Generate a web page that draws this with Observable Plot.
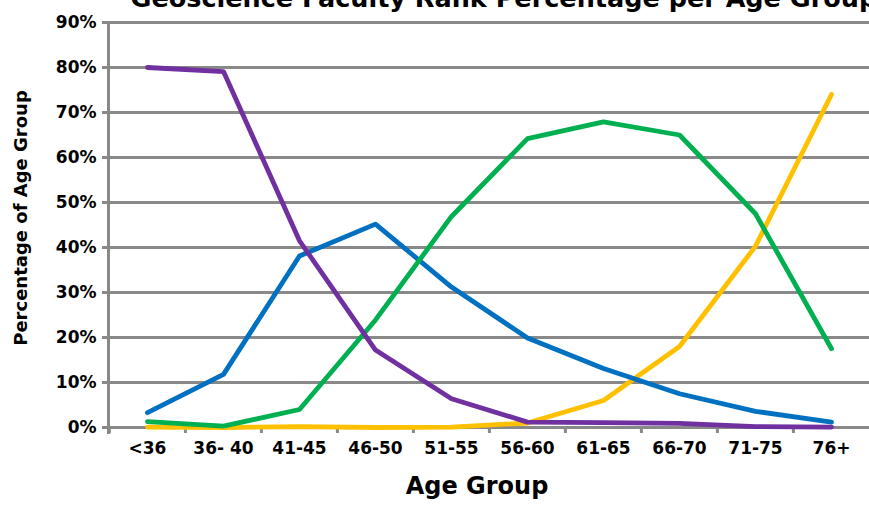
<!DOCTYPE html>
<html>
<head>
<meta charset="utf-8">
<script src="https://cdn.jsdelivr.net/npm/d3@7"></script>
<script src="https://cdn.jsdelivr.net/npm/@observablehq/plot@0.6"></script>
<style>
  html, body { margin: 0; padding: 0; background: #fff; }
  #chart { width: 869px; height: 506px; overflow: hidden; }
</style>
</head>
<body>
<div id="chart"></div>
<script>
const title = "Geoscience Faculty Rank Percentage per Age Group";
const xLabel = "Age Group";
const yLabel = "Percentage of Age Group";
const ages = ["<36", "36- 40", "41-45", "46-50", "51-55", "56-60", "61-65", "66-70", "71-75", "76+"];
const yTicks = [0, 10, 20, 30, 40, 50, 60, 70, 80, 90];
const purpleValues = [80.0, 79.1, 41.5, 17.2, 6.4, 1.2, 1.1, 0.9, 0.2, 0.1];
const blueValues = [3.3, 11.8, 38.1, 45.2, 31.2, 19.9, 13.1, 7.5, 3.6, 1.2];
const greenValues = [1.3, 0.3, 4.0, 23.9, 46.9, 64.2, 67.9, 65.0, 47.5, 17.5];
const yellowValues = [0.1, 0.0, 0.2, 0.0, 0.1, 1.0, 6.0, 18.0, 40.3, 74.0];

const series = [
  {values: yellowValues, color: "#FFC000"},
  {values: blueValues, color: "#0070C0"},
  {values: greenValues, color: "#00B050"},
  {values: purpleValues, color: "#7030A0"}
];

const font = "'DejaVu Sans', sans-serif";
const grid = "#898989";

const lineMarks = series.map(s => Plot.line(ages.map((a, i) => ({age: a, v: s.values[i]})), {
  x: "age", y: "v", stroke: s.color, strokeWidth: 4.8,
  strokeLinejoin: "round", strokeLinecap: "round"
}));

const chart = Plot.plot({
  width: 869,
  height: 506,
  marginLeft: 108,
  marginRight: 0,
  marginTop: 22,
  marginBottom: 79,
  style: {fontFamily: font, background: "#fff", overflow: "visible"},
  x: {type: "point", domain: ages, padding: 0.5, range: [108, 870]},
  y: {domain: [0, 90]},
  marks: [
    Plot.ruleY(yTicks, {stroke: grid, strokeWidth: 3, insetLeft: -6}),
    Plot.frame({anchor: "left", stroke: grid, strokeWidth: 3, insetBottom: -5}),
    Plot.axisY({ticks: yTicks, tickFormat: d => d + "%", tickSize: 0, tickPadding: 12,
      fontSize: 17, fontWeight: "bold", fill: "#000", label: null}),
    Plot.axisX({ticks: ages, tickSize: 6, tickFormat: () => "", dx: -38.1, stroke: grid, strokeWidth: 3, label: null}),
    Plot.axisX({ticks: ages, tickSize: 0, tickPadding: 14, fontSize: 17, fontWeight: "bold", fill: "#000", label: null}),
    ...lineMarks,
    Plot.text([yLabel], {text: d => d, frameAnchor: "left", textAnchor: "middle", dx: -87, dy: -7, rotate: -90,
      fontSize: 18, fontWeight: "bold", fill: "#000"}),
    Plot.text([xLabel], {text: d => d, frameAnchor: "bottom", dx: -12, dy: 66,
      fontSize: 24, fontWeight: "bold", fill: "#000"}),
    Plot.text([title], {text: d => d, frameAnchor: "top-left", dx: 22, dy: -16,
      textAnchor: "start", lineAnchor: "bottom", fontSize: 25.5, fontWeight: "bold", fill: "#000"})
  ]
});
document.getElementById("chart").appendChild(chart);
</script>
</body>
</html>
